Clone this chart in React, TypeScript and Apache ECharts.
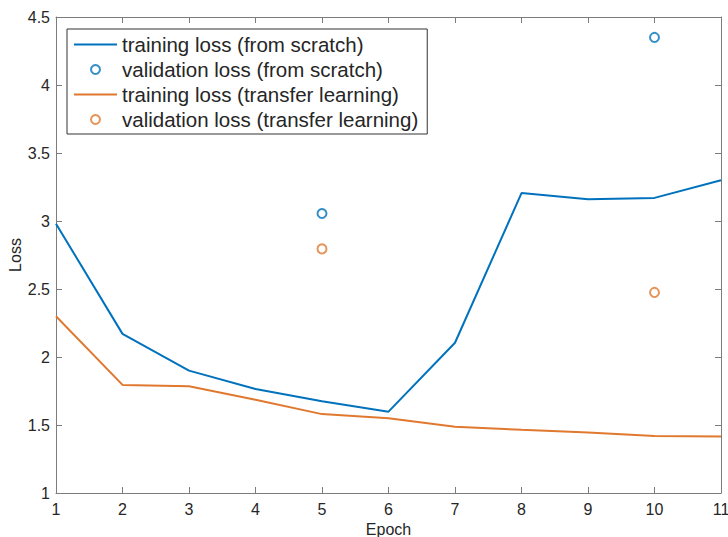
import React, { useEffect, useRef } from "react";
import * as echarts from "echarts";

const epochs = [1, 2, 3, 4, 5, 6, 7, 8, 9, 10, 11];
const trainScratch = [2.98, 2.17, 1.9, 1.765, 1.675, 1.598, 2.105, 3.205, 3.16, 3.17, 3.3];
const trainTransfer = [2.3, 1.795, 1.785, 1.685, 1.58, 1.55, 1.487, 1.465, 1.445, 1.42, 1.415];
const valEpochs = [5, 10];
const valScratch = [3.055, 4.35];
const valTransfer = [2.795, 2.475];

const names = [
  "training loss (from scratch)",
  "validation loss (from scratch)",
  "training loss (transfer learning)",
  "validation loss (transfer learning)",
];

const BLUE = "#0072BD";
const ORANGE = "#E0792F";
const AXIS = "#7c7c7c";
const TEXT = "#262626";
const FONT = "Liberation Sans, Arial, sans-serif";
const LINE_ICON = "path://M0 0H43V2H0Z";

export default function App() {
  const ref = useRef<HTMLDivElement>(null);
  useEffect(() => {
    if (!ref.current) return;
    const chart = echarts.init(ref.current, undefined, { renderer: "svg" });
    const axisCommon = {
      axisLine: { show: true, onZero: false, lineStyle: { color: AXIS, width: 1 } },
      axisTick: { show: true, inside: true, length: 6, lineStyle: { color: AXIS, width: 1 } },
      splitLine: { show: false },
    };
    chart.setOption({
      animation: false,
      backgroundColor: "#fff",
      textStyle: { fontFamily: FONT },
      grid: { left: 56, right: 7, top: 17, bottom: 44, containLabel: false, outerBoundsMode: "none" },
      xAxis: [
        {
          type: "value",
          min: 1,
          max: 11,
          interval: 1,
          position: "bottom",
          name: "Epoch",
          nameLocation: "middle",
          nameGap: 28,
          nameMoveOverlap: false,
          nameTextStyle: { color: TEXT, fontSize: 16, fontFamily: FONT },
          axisLabel: { color: TEXT, fontSize: 16, margin: 8, fontFamily: FONT },
          ...axisCommon,
        },
        {
          type: "value",
          min: 1,
          max: 11,
          interval: 1,
          position: "top",
          axisLabel: { show: false },
          ...axisCommon,
        },
      ],
      yAxis: [
        {
          type: "value",
          min: 1,
          max: 4.5,
          interval: 0.5,
          position: "left",
          name: "Loss",
          nameLocation: "middle",
          nameGap: 33,
          nameMoveOverlap: false,
          nameTextStyle: { color: TEXT, fontSize: 16, fontFamily: FONT },
          axisLabel: { color: TEXT, fontSize: 16, margin: 6, fontFamily: FONT },
          ...axisCommon,
        },
        {
          type: "value",
          min: 1,
          max: 4.5,
          interval: 0.5,
          position: "right",
          axisLabel: { show: false },
          ...axisCommon,
        },
      ],
      legend: {
        orient: "vertical",
        left: 67,
        top: 29,
        padding: [5, 9, 4, 7],
        itemGap: 4,
        itemWidth: 43,
        itemHeight: 9,
        backgroundColor: "#fff",
        borderColor: "#333",
        borderWidth: 1,
        borderRadius: 0,
        textStyle: { color: TEXT, fontSize: 20.5, lineHeight: 20, fontFamily: FONT },
        data: [
          { name: names[0], icon: LINE_ICON, itemStyle: { color: BLUE } },
          { name: names[1] },
          { name: names[2], icon: LINE_ICON, itemStyle: { color: ORANGE } },
          { name: names[3] },
        ],
      },
      series: [
        {
          name: names[0],
          type: "line",
          data: epochs.map((e, i) => [e, trainScratch[i]]),
          symbol: "none",
          lineStyle: { color: BLUE, width: 2 },
          itemStyle: { color: BLUE },
        },
        {
          name: names[1],
          type: "scatter",
          data: valEpochs.map((e, i) => [e, valScratch[i]]),
          symbol: "emptyCircle",
          symbolSize: 9,
          itemStyle: { color: BLUE, borderColor: BLUE, borderWidth: 2 },
        },
        {
          name: names[2],
          type: "line",
          data: epochs.map((e, i) => [e, trainTransfer[i]]),
          symbol: "none",
          lineStyle: { color: ORANGE, width: 2 },
          itemStyle: { color: ORANGE },
        },
        {
          name: names[3],
          type: "scatter",
          data: valEpochs.map((e, i) => [e, valTransfer[i]]),
          symbol: "emptyCircle",
          symbolSize: 9,
          itemStyle: { color: ORANGE, borderColor: ORANGE, borderWidth: 2 },
        },
      ],
    });
    return () => chart.dispose();
  }, []);
  return (
    <div
      ref={ref}
      style={{ position: "fixed", left: 0, top: 0, width: 728, height: 537 }}
    />
  );
}
